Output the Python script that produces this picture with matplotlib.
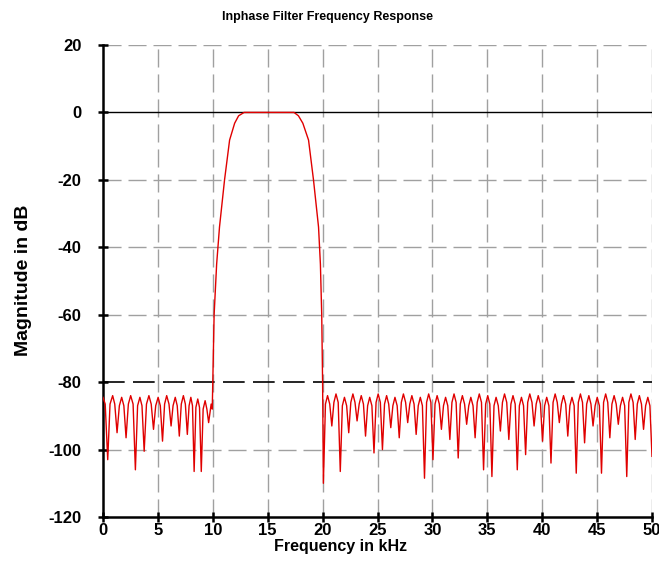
import matplotlib
matplotlib.use("Agg")
import matplotlib.pyplot as plt
from matplotlib import font_manager

# ---- data (frequency in kHz, magnitude in dB) ----
# lower stopband: start of trace, then lobes between nulls
low_start_freq = [0.00, 0.20]
low_start_db = [-84.5, -86.5]
low_null_freq = [0.43, 1.28, 2.10, 2.95, 3.75, 4.60, 5.42, 6.20, 6.95, 7.68, 8.30, 8.95, 9.62]
low_null_db = [-103.0, -95.0, -96.5, -106.0, -100.5, -94.0, -97.5, -93.0, -96.0, -95.5,
               -106.5, -106.5, -92.0]
low_peak_freq = [0.88, 1.70, 2.52, 3.36, 4.18, 5.02, 5.80, 6.58, 7.32, 8.00, 8.63, 9.30]
low_peak_db = [-84.0, -84.5, -84.0, -84.5, -84.0, -84.5, -84.0, -84.5, -84.0, -84.5,
               -85.0, -85.5]
low_shoulder_l = [0.64, 1.49, 2.31, 3.15, 3.96, 4.80, 5.61, 6.38, 7.13, 7.84, 8.46, 9.12]
low_shoulder_r = [1.07, 1.90, 2.74, 3.55, 4.39, 5.22, 6.01, 6.76, 7.50, 8.15, 8.79, 9.46]
low_shoulder_db = [-86.5, -87.0, -86.5, -87.0, -86.5, -87.0, -86.5, -87.0, -86.5, -87.0,
                   -87.5, -88.0]

# passband with both transition edges
pass_freq = [9.85, 9.95, 10.00, 10.12, 10.35, 10.61, 11.07, 11.53, 11.99, 12.35, 12.85,
             15.00, 17.40, 17.80, 18.20, 18.72, 19.17, 19.63, 19.80, 19.92, 20.00]
pass_db = [-86.5, -88.0, -80.0, -60.0, -45.0, -34.0, -20.0, -8.2, -3.2, -1.0, 0.0,
           0.0, 0.0, -1.0, -3.2, -8.2, -20.0, -34.0, -45.0, -60.0, -80.0]

# upper stopband: nulls, lobe peaks and lobe shoulders
up_null_freq = [20.07, 20.84, 21.61, 22.38, 23.14, 23.91, 24.68, 25.45, 26.21, 26.98,
                27.75, 28.52, 29.28, 30.05, 30.82, 31.59, 32.35, 33.12, 33.89, 34.66,
                35.42, 36.19, 36.96, 37.73, 38.49, 39.26, 40.03, 40.80, 41.56, 42.33,
                43.10, 43.86, 44.63, 45.40, 46.16, 46.93, 47.70, 48.47, 49.23, 50.00]
up_null_db = [-110.0, -93.0, -106.5, -95.0, -91.5, -96.0, -101.0, -100.0, -93.5, -96.5,
              -92.0, -95.5, -108.5, -103.0, -94.0, -97.0, -102.5, -92.5, -96.5, -106.0,
              -108.0, -94.5, -97.0, -106.0, -101.5, -93.0, -97.5, -104.0, -92.0, -96.0,
              -107.0, -98.0, -93.0, -107.0, -96.5, -92.5, -108.0, -97.0, -94.0, -102.0]
up_peak_freq = [20.45, 21.22, 21.99, 22.76, 23.52, 24.29, 25.06, 25.83, 26.59, 27.36,
                28.13, 28.90, 29.66, 30.43, 31.20, 31.97, 32.73, 33.50, 34.27, 35.04,
                35.80, 36.57, 37.34, 38.11, 38.87, 39.64, 40.41, 41.18, 41.94, 42.71,
                43.48, 44.25, 45.01, 45.78, 46.55, 47.32, 48.08, 48.85, 49.62]
up_peak_db = [-84.0, -83.5, -84.5, -83.5, -84.0, -84.5, -83.5, -84.0, -84.5, -83.5,
              -84.0, -84.5, -83.5, -84.0, -84.5, -83.5, -84.0, -84.5, -83.5, -84.0,
              -84.5, -83.5, -84.0, -84.5, -83.5, -84.0, -84.5, -83.5, -84.0, -84.5,
              -83.5, -84.0, -84.5, -83.5, -84.0, -84.5, -83.5, -84.0, -84.5]
up_shoulder_l = [20.26, 21.03, 21.80, 22.57, 23.33, 24.10, 24.87, 25.64, 26.40, 27.17,
                 27.94, 28.71, 29.47, 30.24, 31.01, 31.78, 32.54, 33.31, 34.08, 34.85,
                 35.61, 36.38, 37.15, 37.92, 38.68, 39.45, 40.22, 40.99, 41.75, 42.52,
                 43.29, 44.05, 44.82, 45.59, 46.35, 47.12, 47.89, 48.66, 49.42]
up_shoulder_r = [20.65, 21.42, 22.19, 22.95, 23.72, 24.49, 25.26, 26.02, 26.79, 27.56,
                 28.33, 29.09, 29.86, 30.63, 31.40, 32.16, 32.93, 33.70, 34.47, 35.23,
                 36.00, 36.77, 37.54, 38.30, 39.07, 39.84, 40.61, 41.37, 42.14, 42.91,
                 43.67, 44.44, 45.21, 45.97, 46.74, 47.51, 48.28, 49.04, 49.81]
up_shoulder_db = [-86.5, -86.0, -87.0, -86.0, -86.5, -87.0, -86.0, -86.5, -87.0, -86.0,
                  -86.5, -87.0, -86.0, -86.5, -87.0, -86.0, -86.5, -87.0, -86.0, -86.5,
                  -87.0, -86.0, -86.5, -87.0, -86.0, -86.5, -87.0, -86.0, -86.5, -87.0,
                  -86.0, -86.5, -87.0, -86.0, -86.5, -87.0, -86.0, -86.5, -87.0]

x_ticks = [0, 5, 10, 15, 20, 25, 30, 35, 40, 45, 50]
y_ticks = [-120, -100, -80, -60, -40, -20, 0, 20]

title = "Inphase Filter Frequency Response"
x_label = "Frequency in kHz"
y_label = "Magnitude in dB"


# ---- assemble the trace from the read values ----
def lobes(null_f, null_d, peak_f, peak_d, sl, sr, sd):
    f, d = [], []
    for i in range(len(null_f)):
        f.append(null_f[i]); d.append(null_d[i])
        if i < len(peak_f):
            f += [sl[i], peak_f[i], sr[i]]
            d += [sd[i], peak_d[i], sd[i]]
    return f, d


lf, ld = lobes(low_null_freq, low_null_db, low_peak_freq, low_peak_db,
               low_shoulder_l, low_shoulder_r, low_shoulder_db)
uf, ud = lobes(up_null_freq, up_null_db, up_peak_freq, up_peak_db,
               up_shoulder_l, up_shoulder_r, up_shoulder_db)
freq = low_start_freq + lf + pass_freq + uf
mag = low_start_db + ld + pass_db + ud

# ---- fonts ----
available = {f.name for f in font_manager.fontManager.ttflist}
has_narrow = "Liberation Sans Narrow" in available
plt.rcParams["font.family"] = ["Liberation Sans", "DejaVu Sans"]
plt.rcParams["axes.unicode_minus"] = False

W, H = 659, 563
fig = plt.figure(figsize=(W / 100, H / 100), dpi=100)
ax = fig.add_axes([103 / W, 46 / H, 549 / W, 472 / H])

ax.set_xlim(0, 50)
ax.set_ylim(-120, 20)

# grid
dash = (0, (13, 5))
for xv in x_ticks[1:]:
    ax.axvline(xv, color="#a0a0a0", lw=1.0, linestyle=dash, zorder=1)
for yv in y_ticks:
    if yv in (0, -80, -120):
        continue
    ax.axhline(yv, color="#a0a0a0", lw=1.0, linestyle=dash, zorder=1)
ax.axhline(0, color="black", lw=1.0, zorder=2)
ax.axhline(-80, color="black", lw=1.2, linestyle=dash, zorder=2)

ax.plot(freq, mag, color="#e00000", lw=1.0, zorder=3)

for s in ("top", "right"):
    ax.spines[s].set_visible(False)
for s in ("left", "bottom"):
    ax.spines[s].set_linewidth(1.8)
    ax.spines[s].set_color("black")

ax.set_xticks(x_ticks)
ax.set_yticks(y_ticks)
ax.tick_params(axis="both", direction="inout", length=7, width=1.8, color="black",
               labelsize=12)
ax.tick_params(axis="x", pad=0.5)
ax.tick_params(axis="y", pad=12)
for lab in ax.get_xticklabels() + ax.get_yticklabels():
    lab.set_fontweight("bold")

# axis titles and chart title placed as in the reference
fig.text(341 / W, 1 - 546 / H, x_label, ha="center", va="center",
         fontsize=11.5, fontweight="bold")
fig.text(23 / W, 1 - 280 / H, y_label, ha="center", va="center", rotation=90,
         fontsize=14, fontweight="bold")
if has_narrow:
    fig.text(327 / W, 1 - 17 / H, title, ha="center", va="center",
             fontsize=11, fontweight="bold", family=["Liberation Sans Narrow", "DejaVu Sans"])
else:
    fig.text(327 / W, 1 - 17 / H, title, ha="center", va="center",
             fontsize=9, fontweight="bold")

fig.savefig("out.png", dpi=100, facecolor="white")
